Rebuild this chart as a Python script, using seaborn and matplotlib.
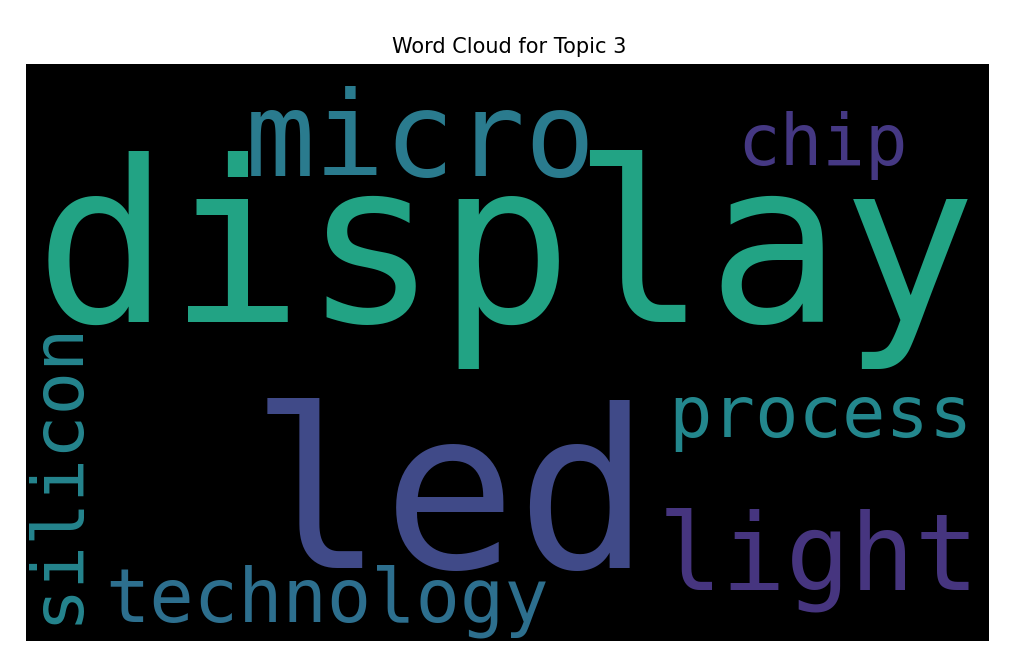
import matplotlib
matplotlib.use("Agg")
import matplotlib.pyplot as plt
import seaborn as sns

words = ["display", "led", "micro", "light", "process", "technology", "chip", "silicon"]
colors = ["#22a384", "#404a88", "#2a7b8e", "#46357f", "#23878d", "#2d6f8e", "#453883", "#25858e"]
sizes = [161, 160, 84, 77, 52, 53, 51, 52]
xpos = [35, 250, 245, 658, 668, 105, 737, 57]
ypos = [322, 568, 176, 590, 437, 622, 165, 472]
rot = [0, 0, 0, 0, 0, 0, 0, 90]

sns.set_style("white")
fig = plt.figure(figsize=(10.18, 6.61), dpi=100)
ax = fig.add_axes([26/1018, 1-641/661, (989-26)/1018, (641-64)/661])
ax.set_facecolor("black")
ax.set_xlim(26, 989)
ax.set_ylim(641, 64)
ax.set_xticks([]); ax.set_yticks([])
for s in ax.spines.values():
    s.set_visible(False)
for w, c, s, x, y, r in zip(words, colors, sizes, xpos, ypos, rot):
    if r:
        ax.text(x, y, w, color=c, fontsize=s, family="DejaVu Sans Mono",
                rotation=90, ha="center", va="center")
    else:
        ax.text(x, y, w, color=c, fontsize=s, family="DejaVu Sans Mono",
                ha="left", va="baseline")
fig.suptitle("Word Cloud for Topic 3", y=1-47/661, va="center", fontsize=15,
             family="DejaVu Sans", color="black")
fig.savefig("out.png", dpi=100)
